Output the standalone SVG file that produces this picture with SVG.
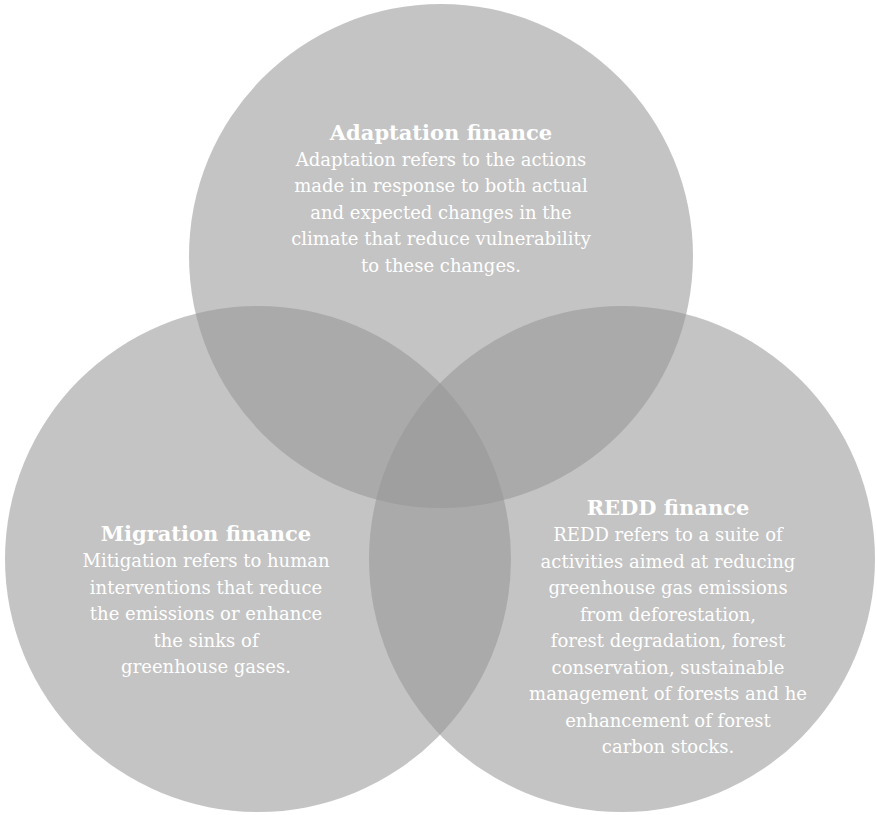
<svg xmlns="http://www.w3.org/2000/svg" width="877" height="815" viewBox="0 0 877 815">
<style>
.c{fill:#969696;fill-opacity:0.56}
.t{font-family:"DejaVu Serif","Liberation Serif",serif;fill:#ffffff;text-anchor:middle}
.h{font-size:21px;font-weight:bold}
.b{font-size:18px}
</style>
<rect x="0" y="0" width="877" height="815" fill="#ffffff"/>
<g id="adaptation">
<circle class="c" cx="441" cy="256" r="252"/>
</g>
<g id="migration">
<circle class="c" cx="258" cy="559" r="253"/>
</g>
<g id="redd">
<circle class="c" cx="622" cy="559" r="253"/>
</g>
<g id="connectors"></g>
<g id="adaptation-text" class="t">
<text class="h" x="441" y="140">Adaptation finance</text>
<text class="b" x="441" y="165.5">Adaptation refers to the actions</text>
<text class="b" x="441" y="192">made in response to both actual</text>
<text class="b" x="441" y="218.5">and expected changes in the</text>
<text class="b" x="441" y="245">climate that reduce vulnerability</text>
<text class="b" x="441" y="271.5">to these changes.</text>
</g>
<g id="migration-text" class="t">
<text class="h" x="206" y="541">Migration finance</text>
<text class="b" x="206" y="567">Mitigation refers to human</text>
<text class="b" x="206" y="593.5">interventions that reduce</text>
<text class="b" x="206" y="620">the emissions or enhance</text>
<text class="b" x="206" y="646.5">the sinks of</text>
<text class="b" x="206" y="673">greenhouse gases.</text>
</g>
<g id="redd-text" class="t">
<text class="h" x="668" y="515">REDD finance</text>
<text class="b" x="668" y="541">REDD refers to a suite of</text>
<text class="b" x="668" y="567.5">activities aimed at reducing</text>
<text class="b" x="668" y="594">greenhouse gas emissions</text>
<text class="b" x="668" y="620.5">from deforestation,</text>
<text class="b" x="668" y="647">forest degradation, forest</text>
<text class="b" x="668" y="673.5">conservation, sustainable</text>
<text class="b" x="668" y="700">management of forests and he</text>
<text class="b" x="668" y="726.5">enhancement of forest</text>
<text class="b" x="668" y="753">carbon stocks.</text>
</g>
</svg>
